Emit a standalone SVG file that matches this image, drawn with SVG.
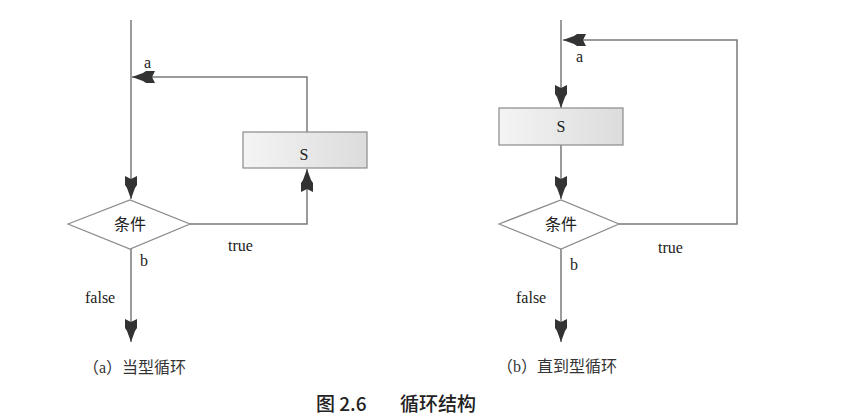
<svg xmlns="http://www.w3.org/2000/svg" width="842" height="420" viewBox="0 0 842 420">
<style>
.ln{fill:none;stroke:#7a7a7a;stroke-width:1.5}
.box{fill:url(#g);stroke:#8a8a8a;stroke-width:1.2}
.dia{fill:#fff;stroke:#8a8a8a;stroke-width:1.2}
.t{font-family:"Liberation Serif","Noto Sans CJK SC",serif;font-size:16px;fill:#222}
.c{font-family:"Liberation Serif","Noto Sans CJK SC",serif;font-size:16px;fill:#333}
.title{font-family:"Noto Sans CJK SC",sans-serif;font-size:19px;font-weight:500;fill:#222}
</style>
<defs>
<linearGradient id="g" x1="0" y1="0" x2="1" y2="0">
<stop offset="0" stop-color="#f4f4f4"/><stop offset="1" stop-color="#dcdcdc"/>
</linearGradient>
<marker id="ar" markerUnits="userSpaceOnUse" markerWidth="26" markerHeight="14" viewBox="-24 -7 26 14" refX="0" refY="0" orient="auto">
<path d="M0,0 L-11,-4 L-14,-6 L-23,-6 L-20,0 L-23,6 L-14,6 L-11,4 Z" fill="#333"/>
</marker>
</defs>
<rect width="842" height="420" fill="#fff"/>
<g id="connectors">
<path class="ln" d="M131,20 V199" marker-end="url(#ar)"/>
<path class="ln" d="M131,249 V342" marker-end="url(#ar)"/>
<path class="ln" d="M190,224 H307 V169" marker-end="url(#ar)"/>
<path class="ln" d="M307,132 V77 H132" marker-end="url(#ar)"/>
<path class="ln" d="M561,20 V108" marker-end="url(#ar)"/>
<path class="ln" d="M561,145 V199" marker-end="url(#ar)"/>
<path class="ln" d="M561,249 V342" marker-end="url(#ar)"/>
<path class="ln" d="M619,224 H737 V40 H563" marker-end="url(#ar)"/>
</g>
<g id="a-S"><rect class="box" x="243" y="132" width="124" height="36"/><text class="t" x="304" y="160" text-anchor="middle">S</text></g>
<g id="a-cond"><polygon class="dia" points="68,224 130,200 190,224 130,249"/><text class="t" x="130" y="230" text-anchor="middle">条件</text></g>
<g id="b-S"><rect class="box" x="499" y="108" width="124" height="37"/><text class="t" x="561" y="132" text-anchor="middle">S</text></g>
<g id="b-cond"><polygon class="dia" points="499,224 561,200 619,224 561,249"/><text class="t" x="561" y="230" text-anchor="middle">条件</text></g>
<g id="labels">
<text class="t" x="144" y="68">a</text>
<text class="t" x="228" y="251">true</text>
<text class="t" x="140" y="266">b</text>
<text class="t" x="85" y="303">false</text>
<text class="c" x="83" y="373">（a）当型循环</text>
<text class="t" x="576" y="62">a</text>
<text class="t" x="658" y="253">true</text>
<text class="t" x="570" y="270">b</text>
<text class="t" x="516" y="303">false</text>
<text class="c" x="497" y="372">（b）直到型循环</text>
<text class="title" x="316" y="411">图 2.6</text>
<text class="title" x="400" y="411">循环结构</text>
</g>
</svg>
